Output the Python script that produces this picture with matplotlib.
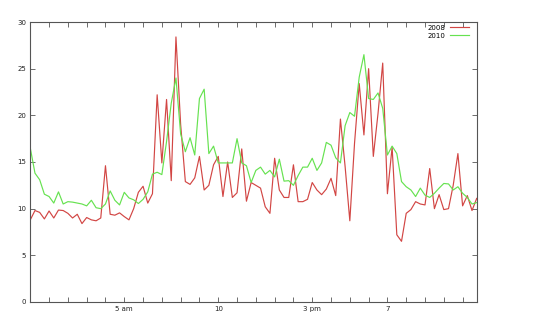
import numpy as np
import matplotlib.pyplot as plt

# 15 minute samples over one day
hours = np.arange(0, 24, 0.25)

y2008 = [8.8, 9.8, 9.6, 8.9, 9.75, 9.0, 9.85, 9.8, 9.5, 9.0, 9.4, 8.4,
         9.05, 8.8, 8.7, 9.0, 14.6, 9.4, 9.3, 9.55, 9.15, 8.8, 10.0, 11.75,
         12.4, 10.6, 11.6, 22.2, 14.9, 21.7, 13.0, 28.4, 19.0, 12.9, 12.6, 13.3,
         15.6, 12.0, 12.5, 14.7, 15.6, 11.3, 15.0, 11.2, 11.7, 16.4, 10.8, 12.8,
         12.5, 12.2, 10.2, 9.5, 15.4, 12.0, 11.2, 11.2, 14.7, 10.75, 10.75, 11.0,
         12.8, 12.0, 11.5, 12.1, 13.25, 11.4, 19.6, 14.5, 8.7, 17.0, 23.4, 17.9,
         25.0, 15.6, 20.2, 25.6, 11.6, 16.6, 7.2, 6.5, 9.5, 9.9, 10.75, 10.5,
         10.4, 14.3, 10.0, 11.5, 9.9, 10.0, 12.5, 15.9, 10.3, 11.4, 9.8, 11.1]

y2010 = [16.5, 13.8, 13.1, 11.55, 11.3, 10.6, 11.8, 10.5, 10.75, 10.7, 10.6, 10.5,
         10.3, 10.9, 10.1, 10.0, 10.5, 11.9, 10.9, 10.4, 11.75, 11.15, 10.95, 10.55,
         11.0, 11.8, 13.7, 13.9, 13.65, 17.2, 21.3, 24.0, 18.0, 16.1, 17.6, 15.75,
         21.8, 22.8, 15.9, 16.7, 14.9, 14.9, 14.9, 14.9, 17.5, 14.9, 14.6, 12.8,
         14.1, 14.45, 13.7, 14.1, 13.4, 15.3, 12.95, 13.0, 12.5, 13.55, 14.45, 14.45,
         15.4, 14.1, 14.9, 17.1, 16.8, 15.45, 14.9, 18.9, 20.3, 19.9, 24.1, 26.5,
         21.8, 21.7, 22.4, 20.75, 15.75, 16.7, 15.9, 12.9, 12.35, 12.0, 11.3, 12.2,
         11.45, 11.2, 11.65, 12.2, 12.7, 12.65, 12.0, 12.35, 11.65, 11.2, 10.5, 10.65]

tick_hours = [5, 10, 15, 19]
tick_labels = ['5 am', '10', '3 pm', '7']

fig = plt.figure(figsize=(5.34, 3.25), dpi=100)
ax = fig.add_axes([0.0567, 0.0708, 0.836, 0.8615])

ax.plot(hours, y2008, color='#d24644', lw=0.85, label='2008')
ax.plot(hours, y2010, color='#66e250', lw=0.85, label='2010')

ax.set_xlim(0, 23.75)
ax.set_ylim(0, 30)

# hourly ticks, only a few labelled
all_hours = np.arange(0, 24)
ax.set_xticks(all_hours)
ax.set_xticklabels([tick_labels[tick_hours.index(h)] if h in tick_hours else ''
                    for h in all_hours])
ax.set_yticks(np.arange(0, 31, 5))

ax.tick_params(direction='in', length=3.5, width=0.6, color='#555555',
               labelsize=5, labelcolor='#222222', top=True, right=True, pad=3)
for s in ax.spines.values():
    s.set_color('#555555')
    s.set_linewidth(0.8)

ax.legend(loc='upper right', bbox_to_anchor=(0.995, 1.01), frameon=False,
          markerfirst=False, fontsize=5, handlelength=2.75, handletextpad=0.6,
          labelspacing=0.3, borderpad=0.3)

fig.savefig('out.png', dpi=100)
